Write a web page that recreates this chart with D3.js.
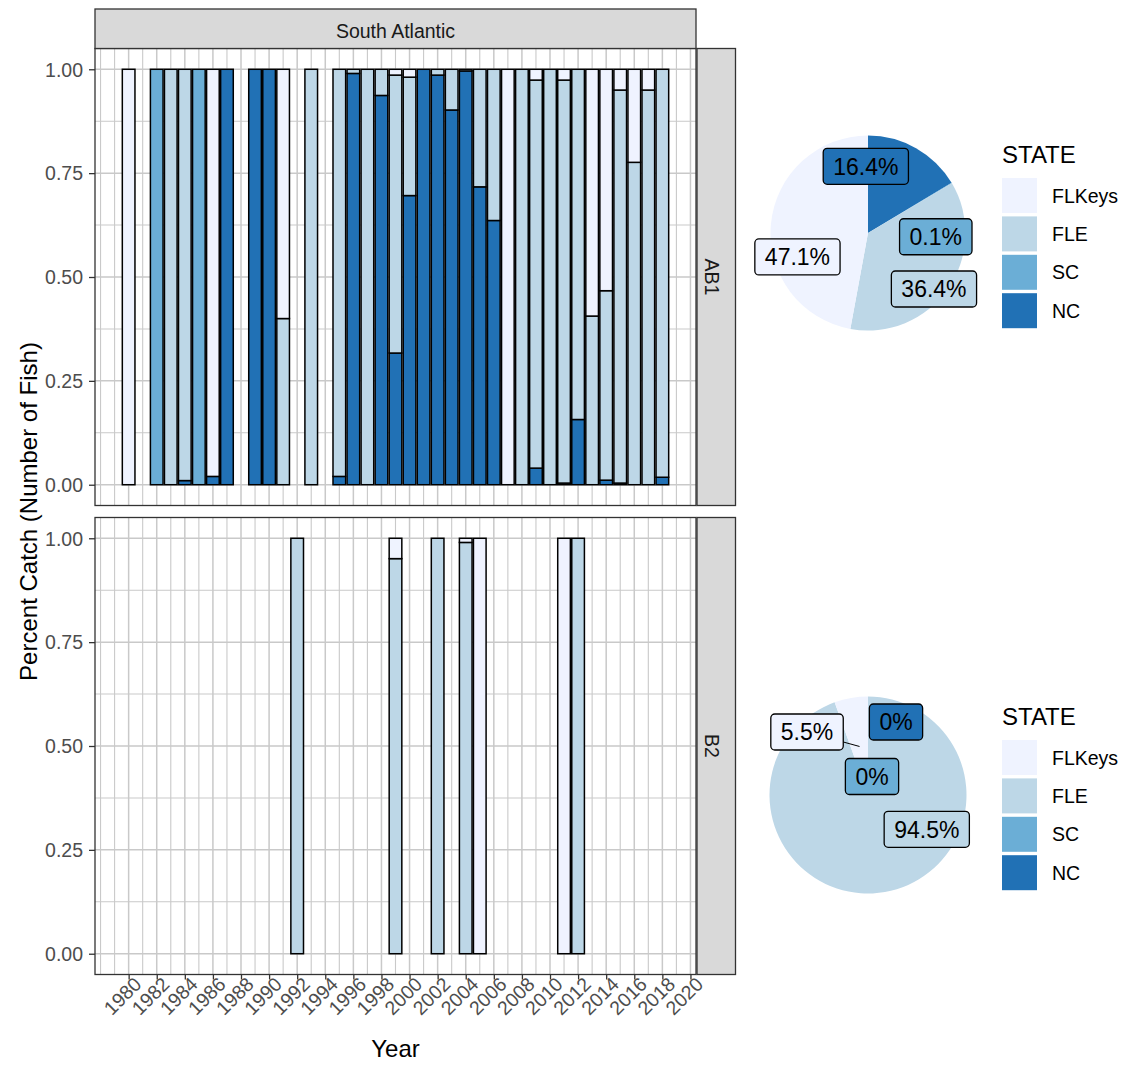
<!DOCTYPE html>
<html><head><meta charset="utf-8">
<script src="https://cdn.jsdelivr.net/npm/d3@7"></script>
<style>body{margin:0;background:#fff} svg{display:block}</style>
</head><body>
<svg id="c" width="1126" height="1065"></svg>
<script>
// ---------- data ----------
const states = ["FLKeys", "FLE", "SC", "NC"];
const stateColors = ["#EFF3FF", "#BDD7E7", "#6BAED6", "#2171B5"];
const facetTitle = "South Atlantic";
const panelNames = ["AB1", "B2"];
const xTickYears = [1980,1982,1984,1986,1988,1990,1992,1994,1996,1998,2000,2002,2004,2006,2008,2010,2012,2014,2016,2018,2020];
const yTickValues = [0, 0.25, 0.5, 0.75, 1];
const yTickLabels = ["0.00", "0.25", "0.50", "0.75", "1.00"];

const ab1Years  = [1980,1982,1983,1984,1985,1986,1987,1989,1990,1991,1993,1995,1996,1997,1998,1999,2000,2001,2002,2003,2004,2005,2006,2007,2008,2009,2010,2011,2012,2013,2014,2015,2016,2017,2018];
const ab1FLKeys = [1,0,0,0,0,0.98,0,0,0,0.60,0,0,0,0,0,0.014,0.019,0,0,0,0,0,0,1,0,0.026,0,0.026,0,0.594,0.533,0.05,0.224,0.05,0];
const ab1FLE    = [0,0,1,0.99,0,0,0,0,0,0.40,1,0.98,0.01,1,0.063,0.669,0.285,0,0.014,0.098,0.004,0.283,0.364,0,1,0.934,1,0.970,0.843,0.406,0.456,0.946,0.776,0.95,0.982];
const ab1SC     = [0,1,0,0,1,0,0,0,0,0,0,0,0,0,0,0,0,0,0,0,0,0,0,0,0,0,0,0,0,0,0,0,0,0,0];
const ab1NC     = [0,0,0,0.01,0,0.02,1,1,1,0,0,0.02,0.99,0,0.937,0.317,0.696,1,0.986,0.902,0.996,0.717,0.636,0,0,0.040,0,0.004,0.157,0,0.011,0.004,0,0,0.018];

const b2Years  = [1992,1999,2002,2004,2005,2011,2012];
const b2FLKeys = [0,0.049,0,0.01,1,1,0];
const b2FLE    = [1,0.951,1,0.99,0,0,1];
const b2SC     = [0,0,0,0,0,0,0];
const b2NC     = [0,0,0,0,0,0,0];

// pie percentages, in the order of `states`
const pieAB1 = [47.1, 36.4, 0.1, 16.4];
const pieB2  = [5.5, 94.5, 0, 0];

// label repel offsets (px), in the order of `states`
const nudgeAB1 = [[-22, 28.4], [26, 28.1], [25.9, 28.7], [-26.2, -24.3]];
const nudgeB2  = [[-52.5, -14.5], [50.3, -14.2], [4, 30.75], [28, -23.75]];

// ---------- drawing ----------
const FONT = "'Liberation Sans', Arial, Helvetica, sans-serif";
const svg = d3.select("#c").style("font-family", FONT);
svg.append("rect").attr("width", 1126).attr("height", 1065).attr("fill", "#fff");

const pL = 95, pR = 696;
const x = d3.scaleLinear().domain([1977.605, 2020.395]).range([pL, pR]);
const colorOf = d3.scaleOrdinal().domain(states).range(stateColors);

const panels = [
  {name: panelNames[0], top: 48.5, bottom: 505.5, years: ab1Years, cols: [ab1FLKeys, ab1FLE, ab1SC, ab1NC], pie: pieAB1, nudge: nudgeAB1, cx: 868, cy: 233, R: 97.5},
  {name: panelNames[1], top: 517.5, bottom: 974.5, years: b2Years, cols: [b2FLKeys, b2FLE, b2SC, b2NC], pie: pieB2, nudge: nudgeB2, cx: 868, cy: 795, R: 98.5}
];

const gridColor = "#c9c9c9";
const minorYears = d3.range(1978, 2021).filter(v => !xTickYears.includes(v));
const minorY = [0.125, 0.375, 0.625, 0.875];

panels.forEach((p, pi) => {
  const y = d3.scaleLinear().domain([-0.05, 1.05]).range([p.bottom, p.top]);
  const g = svg.append("g");
  g.append("rect").attr("x", pL).attr("y", p.top).attr("width", pR - pL).attr("height", p.bottom - p.top).attr("fill", "#fff");
  // minor grid
  g.selectAll(".mx").data(minorYears).join("line")
    .attr("x1", d => x(d)).attr("x2", d => x(d)).attr("y1", p.top).attr("y2", p.bottom)
    .attr("stroke", gridColor).attr("stroke-width", 1.1);
  g.selectAll(".my").data(minorY).join("line")
    .attr("y1", d => y(d)).attr("y2", d => y(d)).attr("x1", pL).attr("x2", pR)
    .attr("stroke", gridColor).attr("stroke-width", 1.1);
  // major grid
  g.selectAll(".Mx").data(xTickYears).join("line")
    .attr("x1", d => x(d)).attr("x2", d => x(d)).attr("y1", p.top).attr("y2", p.bottom)
    .attr("stroke", gridColor).attr("stroke-width", 1.5);
  g.selectAll(".My").data(yTickValues).join("line")
    .attr("y1", d => y(d)).attr("y2", d => y(d)).attr("x1", pL).attr("x2", pR)
    .attr("stroke", gridColor).attr("stroke-width", 1.5);

  // bars
  const rows = p.years.map((yr, i) => {
    const r = {year: yr};
    states.forEach((s, k) => r[s] = p.cols[k][i]);
    return r;
  });
  const stack = d3.stack().keys(["NC", "SC", "FLE", "FLKeys"]);
  const series = stack(rows);
  series.forEach(s => {
    g.append("g").selectAll("rect").data(s.filter(d => d[1] - d[0] > 0)).join("rect")
      .attr("x", d => x(d.data.year - 0.45))
      .attr("width", d => x(d.data.year + 0.45) - x(d.data.year - 0.45))
      .attr("y", d => y(d[1]))
      .attr("height", d => y(d[0]) - y(d[1]))
      .attr("fill", colorOf(s.key))
      .attr("stroke", "#000").attr("stroke-width", 1.5);
  });

  // border
  g.append("rect").attr("x", pL).attr("y", p.top).attr("width", pR - pL).attr("height", p.bottom - p.top)
    .attr("fill", "none").attr("stroke", "#333").attr("stroke-width", 1.3);

  // y axis
  const ya = svg.append("g").attr("transform", `translate(${pL},0)`)
    .call(d3.axisLeft(y).tickValues(yTickValues).tickFormat((d, i) => yTickLabels[i]).tickSize(6).tickPadding(6));
  ya.select(".domain").remove();
  ya.selectAll("line").attr("stroke", "#333").attr("stroke-width", 1.3);
  ya.selectAll("text").attr("font-size", 19.5).attr("fill", "#4D4D4D").attr("font-family", FONT).attr("dy", "0.35em");

  // right strip
  const sx = 697;
  svg.append("rect").attr("x", sx).attr("y", p.top).attr("width", 38.5).attr("height", p.bottom - p.top)
    .attr("fill", "#D9D9D9").attr("stroke", "#333").attr("stroke-width", 1.3);
  svg.append("text").attr("transform", `translate(704.5,${(p.top + p.bottom) / 2}) rotate(90)`)
    .attr("text-anchor", "middle").attr("font-size", 19.5).attr("fill", "#1A1A1A").text(p.name);

  // x axis on bottom panel
  if (pi === panels.length - 1) {
    const xa = svg.append("g").attr("transform", `translate(0,${p.bottom})`)
      .call(d3.axisBottom(x).tickValues(xTickYears).tickFormat(d3.format("d")).tickSize(5));
    xa.select(".domain").remove();
    xa.selectAll("line").attr("stroke", "#333").attr("stroke-width", 1.3);
    xa.selectAll("text").attr("font-size", 19.5).attr("fill", "#4D4D4D").attr("font-family", FONT)
      .attr("x", 0).attr("y", 0).attr("dy", 0).attr("text-anchor", "end")
      .attr("transform", "translate(13.5,11) rotate(-45)");
  }

  // ---- pie ----
  const pieData = ["NC", "SC", "FLE", "FLKeys"].map(s => ({state: s, v: p.pie[states.indexOf(s)]}));
  const arcs = d3.pie().sort(null).value(d => d.v)(pieData);
  const arcGen = d3.arc().innerRadius(0).outerRadius(p.R);
  const pg = svg.append("g").attr("transform", `translate(${p.cx},${p.cy})`);
  pg.selectAll("path").data(arcs).join("path").attr("d", arcGen).attr("fill", d => colorOf(d.data.state));

  // labels
  const lg = pg.append("g");
  arcs.forEach(a => {
    const k = states.indexOf(a.data.state);
    const mid = (a.startAngle + a.endAngle) / 2;
    const ax = Math.sin(mid) * p.R / 2, ay = -Math.cos(mid) * p.R / 2;
    const lx = ax + p.nudge[k][0], ly = ay + p.nudge[k][1];
    const txt = lg.append("text").attr("x", lx).attr("y", ly).attr("dy", "0.36em")
      .attr("text-anchor", "middle").attr("font-size", 23).attr("fill", "#000").text(a.data.v + "%");
    const tw = txt.node().getComputedTextLength();
    const bw = tw + 20, bh = 36;
    const bx0 = lx - bw / 2, by0 = ly - bh / 2;
    // segment if far from anchor: from anchor toward label centre, clipped at box edge
    const nx = Math.max(bx0, Math.min(ax, bx0 + bw)), ny = Math.max(by0, Math.min(ay, by0 + bh));
    const dist = Math.hypot(ax - nx, ay - ny);
    if (dist > 15) {
      const dx = lx - ax, dy = ly - ay;
      const tx = Math.abs(dx) > 0 ? (bw / 2) / Math.abs(dx) : Infinity;
      const ty = Math.abs(dy) > 0 ? (bh / 2) / Math.abs(dy) : Infinity;
      const t = 1 - Math.min(tx, ty);
      const ex = ax + dx * t, ey = ay + dy * t;
      lg.insert("line", "text").attr("x1", ax).attr("y1", ay).attr("x2", ex).attr("y2", ey)
        .attr("stroke", "#000").attr("stroke-width", 1);
    }
    lg.insert("rect", "text").attr("x", bx0).attr("y", by0).attr("width", bw).attr("height", bh)
      .attr("rx", 4).attr("ry", 4).attr("fill", colorOf(a.data.state)).attr("stroke", "#000").attr("stroke-width", 1.3);
    txt.raise();
  });

  // legend
  const leg = svg.append("g").attr("transform", `translate(1002,${p.cy - 70.5})`);
  leg.append("text").attr("x", 0).attr("y", 0).attr("font-size", 24).attr("fill", "#000").text("STATE");
  states.forEach((s, i) => {
    leg.append("rect").attr("x", 0).attr("y", 15.5 + i * 38.4).attr("width", 35).attr("height", 35).attr("fill", stateColors[i]);
    leg.append("text").attr("x", 50).attr("y", 15.5 + i * 38.4 + 17.5).attr("dy", "0.36em")
      .attr("font-size", 19.5).attr("fill", "#000").text(s);
  });
});

// top strip
svg.append("rect").attr("x", pL).attr("y", 9).attr("width", pR - pL).attr("height", 39.5)
  .attr("fill", "#D9D9D9").attr("stroke", "#333").attr("stroke-width", 1.3);
svg.append("text").attr("x", (pL + pR) / 2).attr("y", 37.5).attr("text-anchor", "middle")
  .attr("font-size", 19.5).attr("fill", "#1A1A1A").text(facetTitle);

// axis titles
svg.append("text").attr("transform", `translate(36.5,${(48.5 + 974.5) / 2}) rotate(-90)`)
  .attr("text-anchor", "middle").attr("font-size", 24).attr("fill", "#000").text("Percent Catch (Number of Fish)");
svg.append("text").attr("x", (pL + pR) / 2).attr("y", 1057).attr("text-anchor", "middle")
  .attr("font-size", 24).attr("fill", "#000").text("Year");
</script>
</body></html>
